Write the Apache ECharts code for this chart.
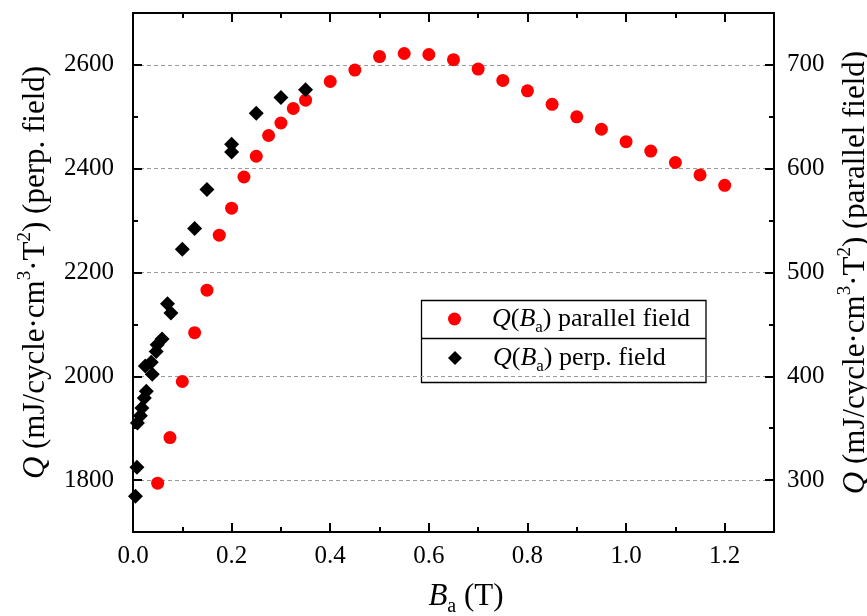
<!DOCTYPE html>
<html>
<head>
<meta charset="utf-8">
<script src="https://cdn.jsdelivr.net/npm/echarts@6/dist/echarts.min.js"></script>
<style>
  html, body { margin: 0; padding: 0; background: #fff; }
  #chart { width: 867px; height: 616px; }
</style>
</head>
<body>
<div id="chart"></div>
<script>
// Applied field B_a (T) and loss Q for the parallel-field measurement (right axis)
const parallelField = [0.05, 0.075, 0.1, 0.125, 0.15, 0.175, 0.2, 0.225, 0.25, 0.275, 0.3, 0.325, 0.35,
  0.4, 0.45, 0.5, 0.55, 0.6, 0.65, 0.7, 0.75, 0.8, 0.85, 0.9, 0.95, 1.0, 1.05, 1.1, 1.15, 1.2];
const parallelQ = [297, 341, 395, 442, 483, 536, 562, 592, 612, 632, 644, 658, 666,
  684, 695, 708, 711, 710, 705, 696, 685, 675, 662, 650, 638, 626, 617, 606, 594, 584];

// Applied field B_a (T) and loss Q for the perpendicular-field measurement (left axis)
const perpField = [0.005, 0.008, 0.009, 0.015, 0.018, 0.023, 0.027, 0.025, 0.039, 0.037, 0.047,
  0.049, 0.059, 0.070, 0.077, 0.1, 0.125, 0.15, 0.2, 0.2, 0.25, 0.3, 0.35];
const perpQ = [1769, 1825, 1910, 1924, 1939, 1958, 1971, 2020, 2004, 2027, 2048,
  2061, 2072, 2140, 2122, 2245, 2285, 2360, 2432, 2447, 2507, 2537, 2552];

// Labelled (major) tick values
const xMajorTicks = [0, 0.2, 0.4, 0.6, 0.8, 1.0, 1.2];
const leftMajorTicks = [1800, 2000, 2200, 2400, 2600];
const rightMajorTicks = [300, 400, 500, 600, 700];

const FONT = "'Liberation Serif', 'Times New Roman', serif";
const INK = '#000';

// rich text for axis titles (31px) and legend entries (26px)
const titleRich = {
  i: { fontFamily: FONT, fontStyle: 'italic', fontSize: 31, lineHeight: 40, color: INK },
  n: { fontFamily: FONT, fontSize: 31, lineHeight: 40, color: INK },
  sub: { fontFamily: FONT, fontSize: 20, lineHeight: 20, padding: [20, 0, 0, 0], verticalAlign: 'top', color: INK },
  sup: { fontFamily: FONT, fontSize: 19, lineHeight: 19, verticalAlign: 'top', color: INK }
};
const legendRich = {
  i: { fontFamily: FONT, fontStyle: 'italic', fontSize: 26, lineHeight: 34, color: INK },
  n: { fontFamily: FONT, fontSize: 26, lineHeight: 34, color: INK },
  sub: { fontFamily: FONT, fontSize: 17, lineHeight: 17, padding: [17, 0, 0, 0], verticalAlign: 'top', color: INK }
};

function frameLine() { return { show: true, onZero: false, lineStyle: { color: INK, width: 2 } }; }
function majorTick(values) {
  return { show: true, inside: true, length: 9, lineStyle: { color: INK, width: 2 }, customValues: values };
}
// an overlaid axis carrying only the short intermediate ticks
function minorTickAxis(base) {
  return Object.assign({
    axisLine: frameLine(),
    axisLabel: { show: false },
    axisTick: { show: true, inside: true, length: 5, lineStyle: { color: INK, width: 2 } },
    splitLine: { show: false }
  }, base);
}

const chart = echarts.init(document.getElementById('chart'));

chart.setOption({
  animation: false,
  backgroundColor: '#fff',
  textStyle: { fontFamily: FONT },
  grid: { left: 133, right: 93, top: 13, bottom: 84, outerBoundsMode: 'none', containLabel: false },
  xAxis: [
    {
      type: 'value', position: 'bottom', min: 0, max: 1.3, interval: 0.1,
      axisLine: frameLine(),
      axisTick: majorTick(xMajorTicks),
      axisLabel: {
        customValues: xMajorTicks, margin: 12, color: INK, fontFamily: FONT, fontSize: 25,
        formatter: v => v.toFixed(1)
      },
      splitLine: { show: false },
      name: '{i|B}{sub|a}{n| (T)}', nameLocation: 'middle', nameGap: 45,
      nameTextStyle: { rich: titleRich, padding: [0, 0, 0, 25] }
    },
    minorTickAxis({ type: 'value', position: 'bottom', min: 0, max: 1.3, interval: 0.1 }),
    {
      type: 'value', position: 'top', min: 0, max: 1.3, interval: 0.1,
      axisLine: frameLine(),
      axisTick: majorTick(xMajorTicks),
      axisLabel: { show: false },
      splitLine: { show: false }
    },
    minorTickAxis({ type: 'value', position: 'top', min: 0, max: 1.3, interval: 0.1 })
  ],
  yAxis: [
    {
      type: 'value', position: 'left', min: 1700, max: 2700, interval: 100,
      axisLine: frameLine(),
      axisTick: majorTick(leftMajorTicks),
      axisLabel: {
        customValues: leftMajorTicks, margin: 19, color: INK, fontFamily: FONT, fontSize: 25,
        formatter: v => String(v)
      },
      splitLine: { show: true, lineStyle: { color: '#9a9a9a', width: 1, type: [4, 3] } },
      name: '{i|Q}{n| (mJ/cycle·cm}{sup|3}{n|·T}{sup|2}{n|) (perp. field)}',
      nameLocation: 'middle', nameRotate: 90, nameGap: 77,
      nameTextStyle: { rich: titleRich }
    },
    minorTickAxis({ type: 'value', position: 'left', min: 1700, max: 2700, interval: 200 }),
    {
      type: 'value', position: 'right', min: 250, max: 750, interval: 50,
      axisLine: frameLine(),
      axisTick: majorTick(rightMajorTicks),
      axisLabel: {
        customValues: rightMajorTicks, margin: 13, color: INK, fontFamily: FONT, fontSize: 25,
        formatter: v => String(v)
      },
      splitLine: { show: false },
      name: '{i|Q}{n| (mJ/cycle·cm}{sup|3}{n|·T}{sup|2}{n|) (parallel field)}',
      nameLocation: 'middle', nameRotate: 90, nameGap: 57,
      nameTextStyle: { rich: titleRich }
    },
    minorTickAxis({ type: 'value', position: 'right', min: 250, max: 750, interval: 100 })
  ],
  legend: [
    {
      data: [{ name: 'parallel', icon: 'circle' }],
      orient: 'vertical', left: 448, top: 302, padding: 0,
      itemWidth: 13, itemHeight: 13, selectedMode: false,
      formatter: () => '{i|Q}{n|(}{i|B}{sub|a}{n|) parallel field}',
      textStyle: { rich: legendRich, padding: [0, 0, 0, 26] }
    },
    {
      data: [{ name: 'perp', icon: 'diamond' }],
      orient: 'vertical', left: 448, top: 341, padding: 0,
      itemWidth: 14, itemHeight: 14, selectedMode: false,
      formatter: () => '{i|Q}{n|(}{i|B}{sub|a}{n|) perp. field}',
      textStyle: { rich: legendRich, padding: [0, 0, 0, 26] }
    }
  ],
  graphic: [
    {
      type: 'rect', silent: true,
      shape: { x: 421.5, y: 300.5, width: 284.5, height: 82 },
      style: { fill: '#fff', stroke: INK, lineWidth: 1.3 }
    },
    {
      type: 'line', silent: true,
      shape: { x1: 421.5, y1: 338.5, x2: 706, y2: 338.5 },
      style: { stroke: INK, lineWidth: 1.3 }
    }
  ],
  series: [
    {
      name: 'parallel', type: 'scatter', xAxisIndex: 0, yAxisIndex: 2,
      symbol: 'circle', symbolSize: 13,
      itemStyle: { color: '#ff0000', opacity: 1 },
      data: parallelField.map((b, k) => [b, parallelQ[k]])
    },
    {
      name: 'perp', type: 'scatter', xAxisIndex: 0, yAxisIndex: 0,
      symbol: 'diamond', symbolSize: 15,
      itemStyle: { color: '#000', opacity: 1 },
      data: perpField.map((b, k) => [b, perpQ[k]])
    }
  ]
});
</script>
</body>
</html>
